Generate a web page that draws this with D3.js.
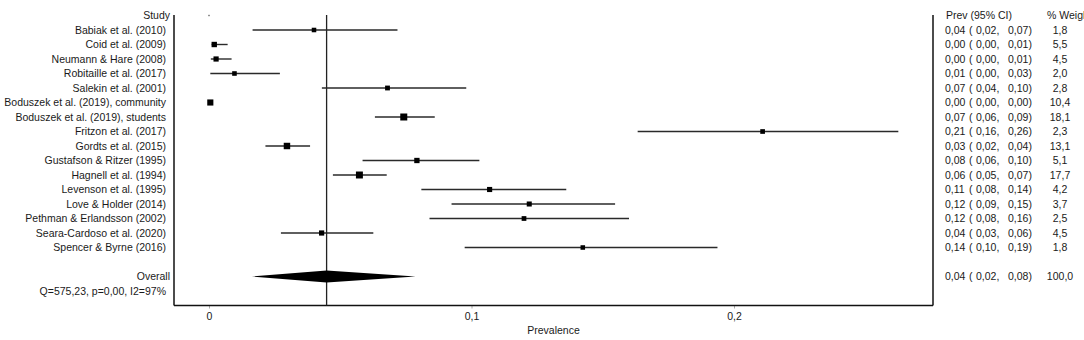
<!DOCTYPE html>
<html>
<head>
<meta charset="utf-8">
<script src="https://cdn.jsdelivr.net/npm/d3@7"></script>
<style>
  html, body { margin: 0; padding: 0; background: #fff; }
  svg { display: block; }
  text { font-family: "Liberation Sans", Arial, sans-serif; fill: #1a1a1a; }
</style>
</head>
<body>
<svg id="chart" width="1084" height="340"></svg>
<script>
const studies = [
  "Babiak et al. (2010)",
  "Coid et al. (2009)",
  "Neumann & Hare (2008)",
  "Robitaille et al. (2017)",
  "Salekin et al. (2001)",
  "Boduszek et al. (2019), community",
  "Boduszek et al. (2019), students",
  "Fritzon et al. (2017)",
  "Gordts et al. (2015)",
  "Gustafson & Ritzer (1995)",
  "Hagnell et al. (1994)",
  "Levenson et al. (1995)",
  "Love & Holder (2014)",
  "Pethman & Erlandsson (2002)",
  "Seara-Cardoso et al. (2020)",
  "Spencer & Byrne (2016)"
];
const estimates = [0.040, 0.002, 0.0027, 0.0097, 0.068, 0.0005, 0.0742, 0.2109, 0.0297, 0.0792, 0.0573, 0.1069, 0.122, 0.120, 0.0429, 0.1424];
const lowers    = [0.0166, 0.001, 0.0007, 0.0005, 0.043, 0.0002, 0.0632, 0.1633, 0.0215, 0.0585, 0.0472, 0.0809, 0.0924, 0.084, 0.0274, 0.0974];
const uppers    = [0.0718, 0.0071, 0.0086, 0.027, 0.098, 0.001, 0.086, 0.2626, 0.0385, 0.103, 0.0677, 0.1361, 0.1547, 0.160, 0.0626, 0.1937];
const weights   = [1.8, 5.5, 4.5, 2.0, 2.8, 10.4, 18.1, 2.3, 13.1, 5.1, 17.7, 4.2, 3.7, 2.5, 4.5, 1.8];
const overallEstimate = 0.0448;
const overallLower = 0.0163;
const overallUpper = 0.0787;
const overallWeight = 100.0;
const xTicks = [0, 0.1, 0.2];
const heterogeneity = "Q=575,23, p=0,00, I2=97%";
const xTitle = "Prevalence";
const colHeaderCI = "Prev (95% CI)";
const colHeaderW = "% Weight";

const svg = d3.select("#chart");
const fmt2 = v => d3.format(".2f")(v).replace(".", ",");
const fmt1 = v => d3.format(".1f")(v).replace(".", ",");

// layout
const frameLeft = 174, frameRight = 933, frameTop = 15, frameBottom = 305.5;
const x = d3.scaleLinear().domain([0, 0.2]).range([209, 734]);
const rows = d3.range(20); // 0 header, 1..16 studies, 17 blank, 18 overall, 19 heterogeneity
const y = d3.scalePoint().domain(rows).range([15.5, 291]);
const size = d3.scaleSqrt().domain([0, 18.1]).range([3.4, 7]);

const data = studies.map((s, i) => ({
  name: s, est: estimates[i], lo: lowers[i], hi: uppers[i], w: weights[i], row: i + 1
}));

// frame
svg.append("line").attr("x1", frameLeft).attr("x2", frameLeft)
  .attr("y1", frameTop).attr("y2", frameBottom).attr("stroke", "#111").attr("stroke-width", 1.5);
svg.append("line").attr("x1", frameRight).attr("x2", frameRight)
  .attr("y1", frameTop).attr("y2", frameBottom).attr("stroke", "#111").attr("stroke-width", 1.5);

// x axis
const xAxis = d3.axisBottom(x).tickValues(xTicks).tickSize(3).tickPadding(4)
  .tickFormat(d => d === 0 ? "0" : String(d).replace(".", ","));
const gx = svg.append("g").attr("transform", `translate(0,${frameBottom})`).call(xAxis);
gx.select(".domain").remove();
gx.selectAll(".tick line").attr("stroke", "#aaa");
gx.selectAll(".tick text").attr("font-size", 10.5).attr("fill", "#1a1a1a")
  .style("font-family", '"Liberation Sans", Arial, sans-serif');
svg.append("line").attr("x1", frameLeft).attr("x2", frameRight)
  .attr("y1", frameBottom).attr("y2", frameBottom).attr("stroke", "#111").attr("stroke-width", 1.5);
svg.append("text").attr("x", (frameLeft + frameRight) / 2).attr("y", 334)
  .attr("text-anchor", "middle").attr("font-size", 10.5).text(xTitle);

// overall vertical line
svg.append("line").attr("x1", x(overallEstimate)).attr("x2", x(overallEstimate))
  .attr("y1", frameTop).attr("y2", frameBottom).attr("stroke", "#222").attr("stroke-width", 1.3);

// tiny header dot
svg.append("rect").attr("x", x(0) - 0.7).attr("y", y(0) - 0.7).attr("width", 1.4).attr("height", 1.4).attr("fill", "#666");

// CI lines
svg.append("g").selectAll("line").data(data).join("line")
  .attr("x1", d => x(d.lo)).attr("x2", d => x(d.hi))
  .attr("y1", d => y(d.row)).attr("y2", d => y(d.row))
  .attr("stroke", "#2a2a2a").attr("stroke-width", 1.4);

// markers
svg.append("g").selectAll("rect").data(data).join("rect")
  .attr("x", d => x(d.est) - size(d.w) / 2)
  .attr("y", d => y(d.row) - size(d.w) / 2)
  .attr("width", d => size(d.w)).attr("height", d => size(d.w))
  .attr("fill", "#000");

// diamond
const yo = y(18);
svg.append("path")
  .attr("d", `M${x(overallLower)},${yo} L${x(overallEstimate)},${yo - 6} L${x(overallUpper)},${yo} L${x(overallEstimate)},${yo + 6} Z`)
  .attr("fill", "#000");

// left labels
svg.append("text").attr("x", 170).attr("y", y(0)).attr("dy", "0.35em")
  .attr("text-anchor", "end").attr("font-size", 10.5).text("Study");
svg.append("g").selectAll("text").data(data).join("text")
  .attr("x", 166).attr("y", d => y(d.row)).attr("dy", "0.35em")
  .attr("text-anchor", "end").attr("font-size", 10.5).text(d => d.name);
svg.append("text").attr("x", 170).attr("y", y(18)).attr("dy", "0.35em")
  .attr("text-anchor", "end").attr("font-size", 10.5).text("Overall");
svg.append("text").attr("x", 166).attr("y", y(19)).attr("dy", "0.35em")
  .attr("text-anchor", "end").attr("font-size", 10.5).text(heterogeneity);

// right columns
svg.append("text").attr("x", 946).attr("y", y(0)).attr("dy", "0.35em")
  .attr("font-size", 10.5).text(colHeaderCI);
svg.append("text").attr("x", 1047).attr("y", y(0)).attr("dy", "0.35em")
  .attr("font-size", 10.5).text(colHeaderW);

const rightRows = data.map(d => ({ row: d.row, est: d.est, lo: d.lo, hi: d.hi, w: d.w }))
  .concat([{ row: 18, est: overallEstimate, lo: overallLower, hi: overallUpper, w: overallWeight }]);

const rg = svg.append("g").selectAll("g").data(rightRows).join("g")
  .attr("transform", d => `translate(0,${y(d.row)})`);
rg.append("text").attr("x", 945).attr("dy", "0.35em").attr("font-size", 10.5)
  .text(d => fmt2(d.est));
rg.append("text").attr("x", 969).attr("dy", "0.35em").attr("font-size", 10.5)
  .text("(");
rg.append("text").attr("x", 976).attr("dy", "0.35em").attr("font-size", 10.5)
  .text(d => `${fmt2(d.lo)},`);
rg.append("text").attr("x", 1008).attr("dy", "0.35em").attr("font-size", 10.5)
  .text(d => `${fmt2(d.hi)})`);
rg.append("text").attr("x", 1060).attr("dy", "0.35em").attr("font-size", 10.5)
  .attr("text-anchor", "middle").text(d => fmt1(d.w));
</script>
</body>
</html>
